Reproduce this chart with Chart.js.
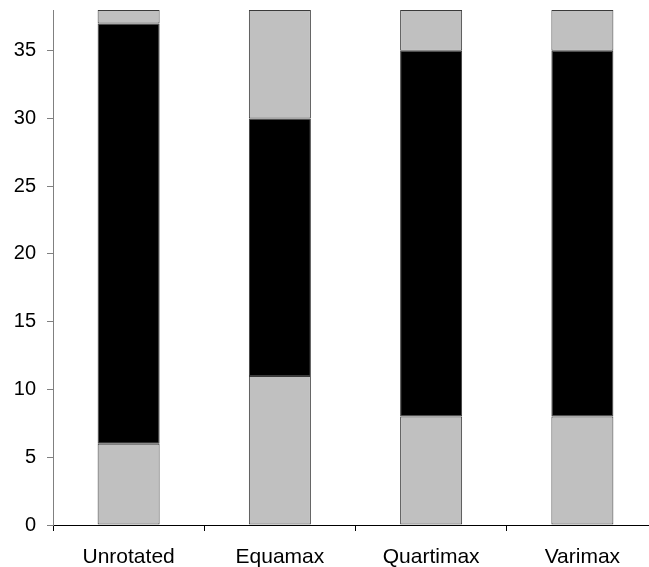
<!DOCTYPE html>
<html>
<head>
<meta charset="utf-8">
<script src="https://cdn.jsdelivr.net/npm/chart.js@4.4.1/dist/chart.umd.min.js"></script>
<style>
    html, body { margin: 0; padding: 0; background: #fff; overflow: hidden; }
    #wrap { width: 662px; height: 567px; position: relative; }
</style>
</head>
<body>
<div id="wrap"><canvas id="rotationChart"></canvas></div>
<script>
// categories and stacked segment values
const methods = ['Unrotated', 'Equamax', 'Quartimax', 'Varimax'];
const lowerPart = [6, 11, 8, 8];
const middlePart = [31, 19, 27, 27];
const upperPart = [1, 8, 3, 3];
const yTicks = [0, 5, 10, 15, 20, 25, 30, 35];

const ctx = document.getElementById('rotationChart').getContext('2d');

new Chart(ctx, {
    type: 'bar',
    data: {
        labels: methods,
        datasets: [
            { label: 'lower', data: lowerPart, backgroundColor: '#c0c0c0' },
            { label: 'middle', data: middlePart, backgroundColor: '#000000' },
            { label: 'upper', data: upperPart, backgroundColor: '#c0c0c0' }
        ].map(function (ds) {
            ds.borderColor = '#3a3a3a';
            ds.borderWidth = 1;
            ds.borderSkipped = false;
            ds.categoryPercentage = 1;
            ds.barPercentage = 0.41;
            return ds;
        })
    },
    options: {
        responsive: true,
        maintainAspectRatio: false,
        animation: false,
        layout: { padding: { top: 10, right: 4, left: 0, bottom: 0 } },
        plugins: {
            legend: { display: false },
            tooltip: { enabled: false }
        },
        scales: {
            x: {
                stacked: true,
                afterFit: function (scale) {
                    scale.height = 42;
                    scale.paddingLeft = 0;
                    scale.paddingRight = 0;
                },
                grid: {
                    offset: true,
                    drawOnChartArea: false,
                    tickLength: 6,
                    color: '#000'
                },
                border: { color: '#000', width: 1 },
                ticks: {
                    color: '#000',
                    padding: 14,
                    font: { family: 'Liberation Sans, Arial, sans-serif', size: 21 }
                }
            },
            y: {
                stacked: true,
                min: 0,
                max: 38,
                afterFit: function (scale) {
                    scale.width = 53;
                    scale.paddingTop = 0;
                    scale.paddingBottom = 0;
                },
                afterBuildTicks: function (scale) {
                    scale.ticks = yTicks.map(function (v) { return { value: v }; });
                },
                grid: {
                    drawOnChartArea: false,
                    tickLength: 6,
                    color: '#808080'
                },
                border: { color: '#808080', width: 1 },
                ticks: {
                    color: '#000',
                    padding: 11,
                    font: { family: 'Liberation Sans, Arial, sans-serif', size: 20 }
                }
            }
        }
    }
});
</script>
</body>
</html>
